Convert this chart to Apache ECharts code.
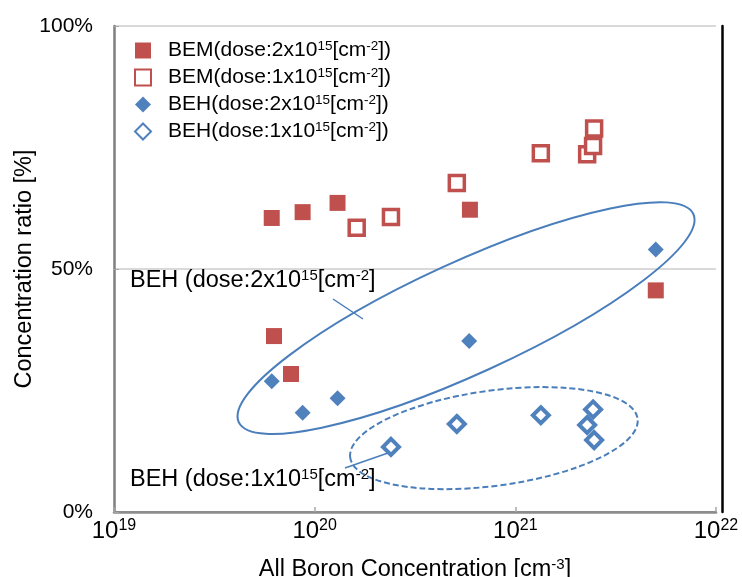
<!DOCTYPE html>
<html>
<head>
<meta charset="utf-8">
<script src="https://cdn.jsdelivr.net/npm/echarts@6/dist/echarts.min.js"></script>
<style>
  html, body { margin: 0; padding: 0; background: #fff; }
  #chart { width: 742px; height: 577px; }
</style>
</head>
<body>
<div id="chart"></div>
<script>
// 数据: [濃度 cm^-3, 比率 %]
var bemDose2 = [[6.11e19, 60.5], [8.71e19, 61.7], [1.30e20, 63.6], [5.94e20, 62.2],
                [6.27e19, 36.2], [7.62e19, 28.4], [5.01e21, 45.6]];
var bemDose1 = [[1.62e20, 58.5], [2.40e20, 60.7], [5.11e20, 67.7], [1.34e21, 73.8],
                [2.28e21, 73.6], [2.44e21, 75.3], [2.47e21, 78.9]];
var behDose2 = [[6.11e19, 26.9], [8.71e19, 20.4], [1.30e20, 23.4], [5.89e20, 35.2],
                [5.01e21, 54.0]];
var behDose1 = [[2.40e20, 13.4], [5.11e20, 18.1], [1.34e21, 19.9], [2.28e21, 17.9],
                [2.44e21, 21.1], [2.47e21, 14.8]];
var seriesNames = ['BEM(dose:2x10{sup|15}[cm{sup|-2}])', 'BEM(dose:1x10{sup|15}[cm{sup|-2}])',
                   'BEH(dose:2x10{sup|15}[cm{sup|-2}])', 'BEH(dose:1x10{sup|15}[cm{sup|-2}])'];
var yTicks = [0, 50, 100];

var RED = '#c0504d', BLUE = '#4f81bd', LINE = '#4a7ebb';
var FONT = '"Liberation Sans", Arial, sans-serif';
function sup(size, lift) {
    return { fontSize: size, fontFamily: FONT, color: '#000', padding: [0, 0, lift, 0] };
}

var myChart = echarts.init(document.getElementById('chart'));

myChart.setOption({
    backgroundColor: '#fff',
    animation: false,
    textStyle: { fontFamily: FONT },
    grid: { left: 114, right: 26, top: 26, bottom: 65, containLabel: false, outerBoundsMode: 'none' },
    legend: {
        orient: 'vertical',
        left: 134, top: 39, padding: 0,
        itemWidth: 16, itemHeight: 16,
        itemGap: 5,
        data: seriesNames,
        formatter: function (n) { return n; },
        textStyle: {
            fontSize: 21, color: '#000', fontFamily: FONT,
            padding: [0, 0, 0, 12],
            rich: { sup: sup(13.5, 9) }
        }
    },
    xAxis: [{
        type: 'log', logBase: 10, min: 1e19, max: 1e22,
        name: 'All Boron Concentration [cm{sup|-3}]',
        nameLocation: 'middle', nameGap: 45, nameMoveOverlap: false,
        nameTextStyle: { fontSize: 23.5, color: '#000', fontFamily: FONT, rich: { sup: sup(15, 10) } },
        axisLine: { lineStyle: { color: '#8c8c8c', width: 2.5 } },
        axisTick: { inside: true, length: 5, lineStyle: { color: '#a6a6a6', width: 1.5 } },
        minorTick: { show: false },
        splitLine: { show: false },
        axisLabel: {
            margin: 6, color: '#000', fontSize: 24, fontFamily: FONT,
            formatter: function (v) { return '10{sup|' + Math.round(Math.log10(v)) + '}'; },
            rich: { sup: sup(16, 11) }
        }
    }, {
        type: 'log', logBase: 10, min: 1e19, max: 1e22, position: 'top',
        axisLine: { lineStyle: { color: '#8c8c8c', width: 2 } },
        axisTick: { show: false }, axisLabel: { show: false }, splitLine: { show: false }
    }],
    yAxis: [{
        type: 'value', min: 0, max: 100, interval: 50,
        name: 'Concentration ratio [%]',
        nameLocation: 'middle', nameGap: 77, nameMoveOverlap: false,
        nameTextStyle: { fontSize: 23.5, color: '#000', fontFamily: FONT },
        axisLine: { show: true, lineStyle: { color: '#7f7f7f', width: 2.5 } },
        axisTick: { show: true, inside: true, length: 5, lineStyle: { color: '#a6a6a6' } },
        splitLine: { lineStyle: { color: '#d9d9d9', width: 2 } },
        axisLabel: {
            margin: 21, color: '#000', fontSize: 21, fontFamily: FONT,
            customValues: yTicks,
            formatter: '{value}%'
        }
    }, {
        type: 'value', min: 0, max: 100, position: 'right', offset: 6,
        axisLine: { show: true, lineStyle: { color: '#000', width: 2.5 } },
        axisTick: { show: false }, axisLabel: { show: false }, splitLine: { show: false }
    }],
    series: [{
        name: seriesNames[0], type: 'scatter', data: bemDose2,
        symbol: 'rect', symbolSize: 16,
        itemStyle: { color: RED, opacity: 1 }, z: 5
    }, {
        name: seriesNames[1], type: 'scatter', data: bemDose1,
        symbol: 'rect', symbolSize: 15,
        itemStyle: { color: '#fff', borderColor: RED, borderWidth: 3.5, opacity: 1 }, z: 5
    }, {
        name: seriesNames[2], type: 'scatter', data: behDose2,
        symbol: 'diamond', symbolSize: 16,
        itemStyle: { color: BLUE, opacity: 1 }, z: 5
    }, {
        name: seriesNames[3], type: 'scatter', data: behDose1,
        symbol: 'diamond', symbolSize: 16,
        itemStyle: { color: '#fff', borderColor: BLUE, borderWidth: 4, opacity: 1 }, z: 5
    }]
});

// 楕円と注釈 (中心はデータ座標で指定)
var ring2 = myChart.convertToPixel({ gridIndex: 0 }, [5.68e20, 39.9]);
var ring1 = myChart.convertToPixel({ gridIndex: 0 }, [7.82e20, 15.2]);
var labelRich = { sup: sup(15, 10) };

myChart.setOption({
    graphic: [{
        type: 'ellipse', x: ring2[0], y: ring2[1], rotation: 24.6 * Math.PI / 180,
        shape: { cx: 0, cy: 0, rx: 250, ry: 56 },
        style: { fill: null, stroke: LINE, lineWidth: 2 }, z: 3
    }, {
        type: 'ellipse', x: ring1[0], y: ring1[1], rotation: 7.7 * Math.PI / 180,
        shape: { cx: 0, cy: 0, rx: 145, ry: 47.6 },
        style: { fill: null, stroke: LINE, lineWidth: 2, lineDash: [6, 3] }, z: 3
    }, {
        type: 'line', shape: { x1: 333, y1: 299, x2: 363, y2: 319 },
        style: { stroke: LINE, lineWidth: 1.5 }, z: 3
    }, {
        type: 'line', shape: { x1: 345, y1: 468, x2: 388, y2: 453 },
        style: { stroke: LINE, lineWidth: 1.5 }, z: 3
    }, {
        type: 'text', x: 130, y: 281, z: 6,
        style: { text: 'BEH (dose:2x10{sup|15}[cm{sup|-2}]', fontSize: 23.5, fontFamily: FONT,
                 fill: '#000', verticalAlign: 'middle', rich: labelRich }
    }, {
        type: 'text', x: 130, y: 480, z: 6,
        style: { text: 'BEH (dose:1x10{sup|15}[cm{sup|-2}]', fontSize: 23.5, fontFamily: FONT,
                 fill: '#000', verticalAlign: 'middle', rich: labelRich }
    }]
});
</script>
</body>
</html>
